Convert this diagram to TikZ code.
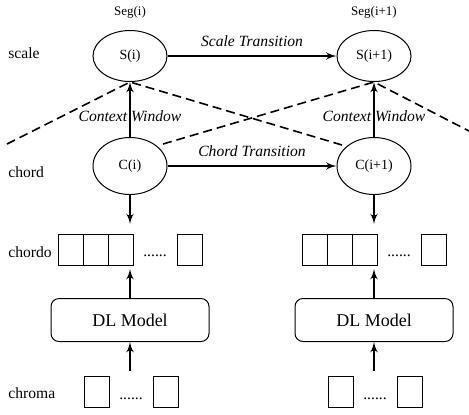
\documentclass[tikz,border=0pt]{standalone}
\usepackage{fontspec}
\setmainfont{Liberation Serif}
\usepackage{tikz}
\usetikzlibrary{shapes.geometric}
\usetikzlibrary{arrows}
\tikzstyle{state} = [ellipse, draw, line width=0.5pt, minimum width=37pt,
    minimum height=25.5pt, inner sep=0pt, font=\fontsize{7}{8}\selectfont]
\tikzstyle{cell} = [rectangle, draw, line width=0.5pt, minimum width=12.5pt,
    minimum height=15.5pt, inner sep=0pt]
\tikzstyle{model} = [rectangle, draw, line width=0.5pt, rounded corners=4pt,
    minimum width=79pt, minimum height=21.5pt, font=\fontsize{9}{10}\selectfont]
\tikzstyle{tag} = [anchor=west, inner sep=0pt, font=\fontsize{7.8}{9}\selectfont]
\tikzstyle{dots} = [inner sep=0pt, font=\fontsize{7.8}{9}\selectfont]
\tikzstyle{line} = [draw, -latex', line width=0.8pt]
\tikzstyle{window} = [draw, dash pattern=on 4.5pt off 2.5pt, line width=0.8pt]

\begin{document}
\begin{tikzpicture}[x=0.5pt,y=-0.5pt,every label/.style={font=\fontsize{7.8}{9}\selectfont\itshape}]
    \useasboundingbox (0,0) rectangle (469,414);
    % Place nodes
    \node [state] (Si) at (130,56) {S(i)};
    \node [state, right of=Si, node distance=122pt] (Sj) {S(i+1)};
    \node [state, minimum height=28.5pt, below of=Si, node distance=55pt] (Ci) {C(i)};
    \node [state, minimum height=28.5pt, below of=Sj, node distance=55pt] (Cj) {C(i+1)};
    \node [above of=Si, node distance=22pt, font=\fontsize{6.5}{7}\selectfont] (segi) {Seg(i)};
    \node [above of=Sj, node distance=22pt, font=\fontsize{6.5}{7}\selectfont] (segj) {Seg(i+1)};

    \node [tag] (scale) at (8,53) {scale};
    \node [tag] (chord) at (8,172) {chord};
    \node [tag] (chordo) at (8,252) {chordo};
    \node [tag] (chroma) at (8,393) {chroma};

    % chord outputs, one row per segment
    \node [cell, below of=Ci, node distance=42pt, xshift=-4.75pt] (ai3) {};
    \node [cell, left of=ai3, node distance=12.5pt] (ai2) {};
    \node [cell, left of=ai2, node distance=12.5pt] (ai1) {};
    \node [dots, right of=ai3, node distance=17.25pt, yshift=-3pt] (aid) {......};
    \node [cell, right of=ai3, node distance=34.5pt] (ain) {};
    \node [cell, below of=Cj, node distance=42pt, xshift=-4.75pt] (aj3) {};
    \node [cell, left of=aj3, node distance=12.5pt] (aj2) {};
    \node [cell, left of=aj2, node distance=12.5pt] (aj1) {};
    \node [dots, right of=aj3, node distance=17.25pt, yshift=-3pt] (ajd) {......};
    \node [cell, right of=aj3, node distance=34.5pt] (ajn) {};

    \node [model, below of=Ci, node distance=77pt] (dli) {DL Model};
    \node [model, below of=Cj, node distance=77pt] (dlj) {DL Model};

    % chroma inputs
    \node [cell, below of=dli, node distance=35.75pt, xshift=-16.75pt] (bi1) {};
    \node [dots, below of=dli, node distance=39.5pt, xshift=0.5pt] (bid) {......};
    \node [cell, below of=dli, node distance=35.75pt, xshift=17.75pt] (bin) {};
    \node [cell, below of=dlj, node distance=35.75pt, xshift=-16.75pt] (bj1) {};
    \node [dots, below of=dlj, node distance=39.5pt, xshift=0.5pt] (bjd) {......};
    \node [cell, below of=dlj, node distance=35.75pt, xshift=17.75pt] (bjn) {};

    \coordinate (wl1) at (7,144);
    \coordinate (wr1) at (342,145);
    \coordinate (wl2) at (163,144);
    \coordinate (wr2) at (469,131);

    % Draw edges
    \path [window] (wl1) -- (Si.south) -- (wr1);
    \path [window] (wl2) -- (Sj.south) -- (wr2);

    \path [line] (Si) -- node[above=1pt, font=\fontsize{7.8}{9}\selectfont\itshape] {Scale Transition} (Sj);
    \path [line] (Ci) -- node[above=1pt, font=\fontsize{7.8}{9}\selectfont\itshape] {Chord Transition} (Cj);
    \path [line] (Ci) -- node[pos=.38, font=\fontsize{7.8}{9}\selectfont\itshape] {Context Window} (Si);
    \path [line] (Cj) -- node[pos=.38, font=\fontsize{7.8}{9}\selectfont\itshape] {Context Window} (Sj);

    \path [line, shorten >=5pt] (Ci) -- (Ci |- ai3.north);
    \path [line, shorten >=5pt] (Cj) -- (Cj |- aj3.north);
    \path [line, shorten >=1.5pt] (dli) -- (dli |- ai3.south);
    \path [line, shorten >=1.5pt] (dlj) -- (dlj |- aj3.south);
    \path [line, shorten <=2.5pt] (dli |- bi1.north) -- (dli);
    \path [line, shorten <=2.5pt] (dlj |- bj1.north) -- (dlj);

\end{tikzpicture}
\end{document}
